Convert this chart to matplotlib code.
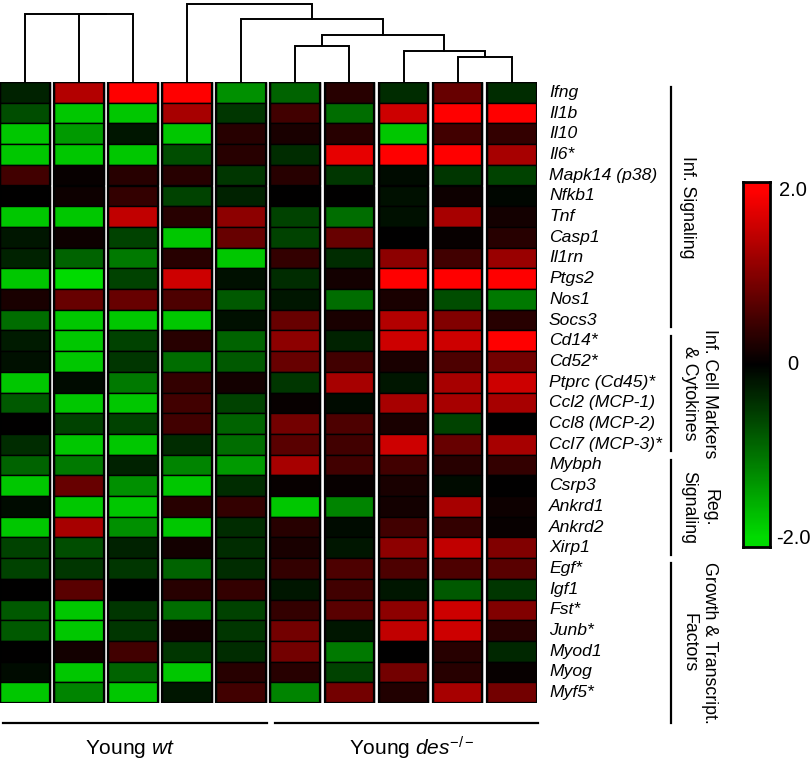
import numpy as np
import matplotlib
matplotlib.use("Agg")
import matplotlib.pyplot as plt
from matplotlib.colors import LinearSegmentedColormap, Normalize
from matplotlib.patches import Rectangle
from matplotlib.transforms import blended_transform_factory

plt.rcParams['font.family'] = ['Liberation Sans', 'DejaVu Sans']
plt.rcParams['mathtext.fontset'] = 'custom'
plt.rcParams['mathtext.it'] = 'Liberation Sans:italic'
plt.rcParams['mathtext.rm'] = 'Liberation Sans'

# ---------------- data ----------------
genes = ["Ifng", "Il1b", "Il10", "Il6*", "Mapk14 (p38)", "Nfkb1", "Tnf", "Casp1",
         "Il1rn", "Ptgs2", "Nos1", "Socs3", "Cd14*", "Cd52*", "Ptprc (Cd45)*",
         "Ccl2 (MCP-1)", "Ccl8 (MCP-2)", "Ccl7 (MCP-3)*", "Mybph", "Csrp3", "Ankrd1",
         "Ankrd2", "Xirp1", "Egf*", "Igf1", "Fst*", "Junb*", "Myod1", "Myog", "Myf5*"]

group_names = ["Inf. Signaling", "Inf. Cell Markers\n& Cytokines", "Reg.\nSignaling",
               "Growth & Transcript.\nFactors"]
group_sizes = [12, 6, 5, 7]

sample_groups = ["Young $\\mathit{wt}$", "Young $\\mathit{des}^{-/-}$"]
sample_group_sizes = [5, 5]

s1 = [-0.3, -0.7, -1.8, -1.8, 0.5, 0.0, -1.8, -0.2, -0.3, -1.8, 0.2, -1.0, -0.25, -0.15, -1.8,
      -0.8, 0.0, -0.4, -0.9, -1.8, -0.1, -1.8, -0.6, -0.6, 0.0, -0.8, -0.8, 0.0, -0.1, -1.8]
s2 = [1.4, -1.8, -1.4, -1.8, 0.05, 0.1, -1.8, 0.1, -0.9, -2.0, 0.8, -1.8, -1.8, -1.8, -0.1,
      -1.8, -0.6, -1.8, -1.1, 0.8, -1.8, 1.3, -0.7, -0.5, 0.7, -1.8, -1.8, 0.15, -1.8, -1.2]
s3 = [2.0, -1.8, -0.2, -1.8, 0.3, 0.4, 1.5, -0.6, -1.1, -0.6, 0.8, -1.8, -0.6, -0.5, -1.1,
      -1.8, -0.6, -1.8, -0.3, -1.3, -1.8, -1.3, -0.3, -0.5, 0.0, -0.5, -0.5, 0.5, -0.9, -1.8]
s4 = [2.0, 1.3, -1.8, -0.7, 0.3, -0.6, 0.3, -1.8, 0.3, 1.6, 0.6, -1.8, 0.3, -1.0, 0.4,
      0.5, 0.5, -0.4, -1.2, -1.8, 0.3, -1.8, 0.15, -0.9, 0.3, -1.0, 0.15, -0.5, -1.8, -0.2]
s5 = [-1.3, -0.5, 0.3, 0.3, -0.5, -0.3, 1.1, 0.8, -1.8, -0.15, -0.8, -0.15, -0.9, -0.8, 0.15,
      -0.6, -0.9, -1.0, -1.4, -0.4, 0.4, -0.4, -0.4, -0.4, 0.4, -0.6, -0.5, -0.4, 0.3, 0.5]
s6 = [-0.9, 0.5, 0.2, -0.4, 0.3, 0.0, -0.6, -0.6, 0.4, -0.4, -0.2, 0.8, 1.1, 0.8, -0.5,
      0.05, 0.9, 0.7, 1.3, 0.05, -1.8, 0.3, 0.2, 0.4, -0.2, 0.4, 0.9, 0.9, 0.3, -1.2]
s7 = [0.3, -1.0, 0.3, 1.8, -0.5, 0.0, -1.0, 0.8, -0.4, 0.15, -1.0, 0.2, -0.3, 0.5, 1.3,
      -0.1, 0.6, 0.5, 0.5, 0.05, -1.2, -0.1, -0.2, 0.6, 0.5, 0.7, -0.2, -1.1, -0.6, 0.9]
s8 = [-0.4, 1.6, -1.8, 2.0, -0.1, -0.15, -0.15, 0.0, 1.1, 2.0, 0.2, 1.4, 1.6, 0.2, -0.2,
      1.3, 0.2, 1.6, 0.5, 0.2, 0.15, 0.5, 1.1, 0.6, -0.2, 1.1, 1.5, 0.0, 0.9, 0.25]
s9 = [0.8, 2.0, 0.5, 2.0, -0.5, 0.1, 1.3, 0.05, 0.5, 2.0, -0.7, 1.0, 1.6, 0.6, 1.3,
      1.3, -0.6, 0.8, 0.3, -0.1, 1.3, 0.4, 1.5, 0.6, -0.8, 1.6, 1.6, 0.3, 0.3, 1.3]
s10 = [-0.4, 2.0, 0.4, 1.3, -0.6, -0.05, 0.15, 0.3, 1.2, 2.0, -1.1, 0.3, 2.0, 0.9, 1.6,
       1.3, 0.0, 1.3, 0.4, 0.0, 0.1, 0.05, 1.0, 0.7, -0.5, 1.0, 0.3, -0.35, 0.05, 0.9]
samples = [s1, s2, s3, s4, s5, s6, s7, s8, s9, s10]

# dendrogram merges (scipy style: new cluster ids start at 10)
merge_a = [1, 0, 8, 7, 5, 14, 4, 3]
merge_b = [2, 10, 9, 12, 6, 13, 15, 16]
merge_h = [68.5, 68.5, 25, 31, 36, 47, 63, 78]

# ---------------- layout ----------------
W, H = 812, 767
fig = plt.figure(figsize=(W / 100, H / 100), dpi=100)
fig.patch.set_facecolor('white')

def box(x0, y0, x1, y1):
    return [x0 / W, 1 - y1 / H, (x1 - x0) / W, (y1 - y0) / H]

HM_L, HM_R, HM_T, HM_B = 0, 537, 82, 703
step = 54.1
c0 = 24.85
xlim = (-(c0 - HM_L) / step, (HM_R - c0) / step)
nrow = len(genes)
ncol = len(samples)

cmap = LinearSegmentedColormap.from_list('gkr', [(0, 0.86, 0), (0, 0, 0), (1, 0, 0)])
norm = Normalize(-2, 2)

ax = fig.add_axes(box(HM_L, HM_T, HM_R, HM_B))
ax.set_xlim(*xlim)
ax.set_ylim(nrow, 0)
ax.axis('off')
cw = 49.7 / step
rows = np.arange(nrow)
for j, vals in enumerate(samples):
    ax.bar(np.full(nrow, j), np.ones(nrow), bottom=rows, width=cw,
           color=cmap(norm(np.array(vals))), edgecolor='black', linewidth=1.0)
    ax.add_patch(Rectangle((j - cw / 2, 0), cw, nrow, fill=False,
                           edgecolor='black', linewidth=1.6, zorder=5))

# gene labels
tr = blended_transform_factory(fig.transFigure, ax.transData)
for i, g in enumerate(genes):
    ax.text(549 / W, i + 0.5, g, transform=tr, style='italic', fontsize=12.6,
            ha='left', va='center')

# group brackets
tra = blended_transform_factory(ax.transAxes, ax.transData)
span = HM_R - HM_L
lx = 671 / span
bottom_line_y = nrow + 0.95
start = 0
for k, (name, n) in enumerate(zip(group_names, group_sizes)):
    y0 = start + 0.25
    y1 = start + n - 0.15 if k < len(group_sizes) - 1 else bottom_line_y
    ax.plot([lx, lx], [y0, y1], color='black', lw=1.6, transform=tra, clip_on=False)
    yc = (y0 + y1) / 2
    nl = name.count("\n")
    ax.text((688 + 11.5 * nl) / span, yc, name, transform=tra, rotation=-90,
            ha='center', va='center', fontsize=12.8, linespacing=1.3,
            multialignment='center')
    start += n

# sample group underlines and labels
start = 0
for name, n in zip(sample_groups, sample_group_sizes):
    if start == 0:
        xa = xlim[0] + 0.05
        xb = start + n - 1 + cw / 2 + 0.02
    else:
        xa = start - cw / 2 + 0.09
        xb = xlim[1] + 0.02
    ax.plot([xa, xb], [bottom_line_y, bottom_line_y], color='black', lw=1.6,
            clip_on=False)
    ax.text(start + (n - 1) / 2 + (-0.06 if start == 0 else 0.16), nrow + 2.2, name,
            ha='center', va='center', fontsize=15)
    start += n

# dendrogram
dax = fig.add_axes(box(HM_L, 0, HM_R, HM_T))
dax.set_xlim(*xlim)
dax.set_ylim(0, HM_T)
dax.axis('off')
pos = {i: float(i) for i in range(ncol)}
hgt = {i: 0.0 for i in range(ncol)}
for k, (a, b, h) in enumerate(zip(merge_a, merge_b, merge_h)):
    xa, xb = pos[a], pos[b]
    dax.plot([xa, xa, xb, xb], [hgt[a], h, h, hgt[b]], color='black', lw=1.4,
             solid_joinstyle='miter', clip_on=False)
    pos[ncol + k] = (xa + xb) / 2
    hgt[ncol + k] = h

# colorbar
cax = fig.add_axes(box(743, 182, 770, 547))
grad = np.linspace(-2.1, 2.1, 300).reshape(-1, 1)
cax.imshow(grad, cmap=cmap, norm=norm, origin='lower', aspect='auto',
           extent=[0, 1, -2.1, 2.1])
cax.set_xticks([])
cax.set_yticks([])
for sp in cax.spines.values():
    sp.set_linewidth(2)
    sp.set_color('black')
trc = blended_transform_factory(fig.transFigure, cax.transData)
for v, lab in [(2, "2.0"), (0, "0"), (-2, "-2.0")]:
    cax.text(793 / W, v, lab, transform=trc, ha='center', va='center', fontsize=14.5)

fig.savefig("out.png", dpi=100, facecolor='white')
